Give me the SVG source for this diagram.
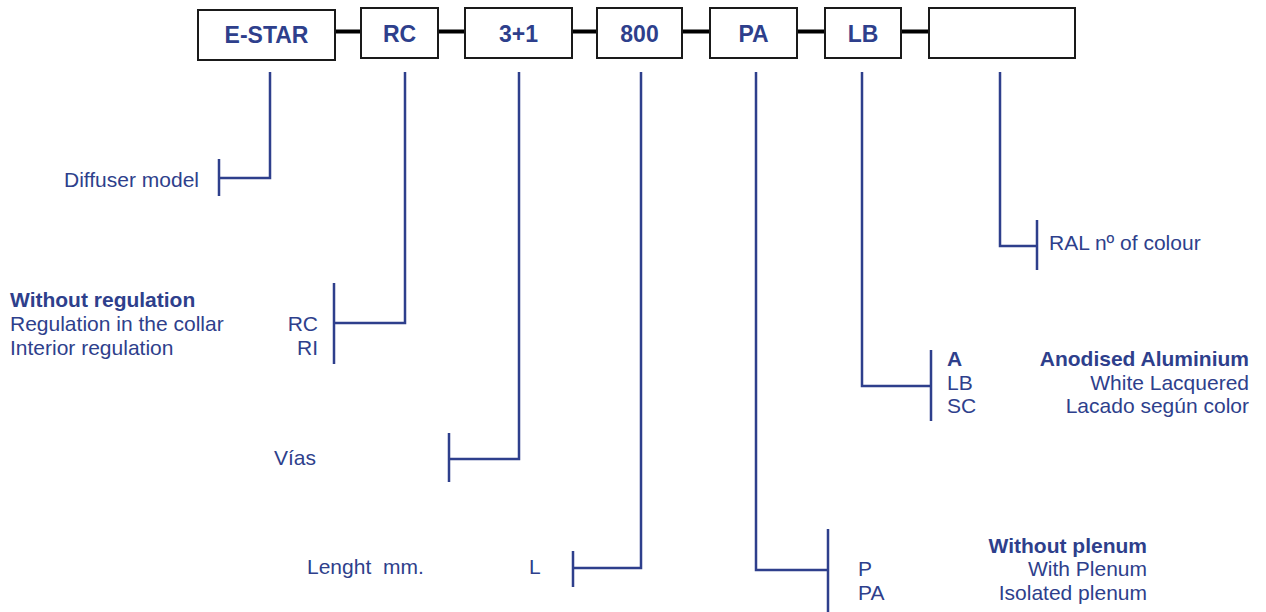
<svg xmlns="http://www.w3.org/2000/svg" width="1266" height="612" viewBox="0 0 1266 612">
<style>
.box{fill:#fff;stroke:#1a1a1a;stroke-width:2}
.bt{font-family:"Liberation Sans",Arial,sans-serif;font-weight:bold;font-size:23px;fill:#2E3F8C;text-anchor:middle}
.t{font-family:"Liberation Sans",Arial,sans-serif;font-size:21px;fill:#2E3F8C}
.b{font-weight:bold}
.r{text-anchor:end}
.link{stroke:#000;stroke-width:4;fill:none}
.lead{stroke:#2E3F8C;stroke-width:2.5;fill:none}
</style>
<rect width="1266" height="612" fill="#fff"/>
<g id="connectors">
<line class="link" x1="336" y1="31.5" x2="361" y2="31.5"/>
<line class="link" x1="438" y1="31.5" x2="465" y2="31.5"/>
<line class="link" x1="572" y1="31.5" x2="597" y2="31.5"/>
<line class="link" x1="682" y1="31.5" x2="710" y2="31.5"/>
<line class="link" x1="797" y1="31.5" x2="825" y2="31.5"/>
<line class="link" x1="901" y1="31.5" x2="929" y2="31.5"/>
<path class="lead" d="M270 72 V178 H219 M219 159 V196"/>
<path class="lead" d="M405 72 V323 H334 M334 283 V364"/>
<path class="lead" d="M519 72 V459 H449 M449 433 V482"/>
<path class="lead" d="M641 72 V568 H573 M573 551 V587"/>
<path class="lead" d="M756 72 V570 H828 M828 529 V612"/>
<path class="lead" d="M862 72 V386 H931 M931 350 V421"/>
<path class="lead" d="M1000 72 V246 H1037 M1037 220 V270"/>
</g>
<g id="n-estar"><rect class="box" x="198" y="10" width="137" height="50"/><text class="bt" x="266.5" y="43">E-STAR</text></g>
<g id="n-rc"><rect class="box" x="361" y="8" width="77" height="50"/><text class="bt" x="399.5" y="42">RC</text></g>
<g id="n-31"><rect class="box" x="465" y="8" width="107" height="50"/><text class="bt" x="518.5" y="42">3+1</text></g>
<g id="n-800"><rect class="box" x="597" y="8" width="85" height="50"/><text class="bt" x="639.5" y="42">800</text></g>
<g id="n-pa"><rect class="box" x="710" y="8" width="87" height="50"/><text class="bt" x="753.5" y="42">PA</text></g>
<g id="n-lb"><rect class="box" x="825" y="8" width="76" height="50"/><text class="bt" x="863" y="42">LB</text></g>
<g id="n-ral"><rect class="box" x="929" y="8" width="146" height="50"/></g>
<g id="l-model"><text class="t" x="64" y="187">Diffuser model</text></g>
<g id="l-reg">
<text class="t b" x="10" y="307">Without regulation</text>
<text class="t" x="10" y="331">Regulation in the collar</text>
<text class="t" x="10" y="355">Interior regulation</text>
<text class="t r" x="318" y="331">RC</text>
<text class="t r" x="318" y="355">RI</text>
</g>
<g id="l-vias"><text class="t" x="274" y="465">Vías</text></g>
<g id="l-len"><text class="t" x="307" y="574" xml:space="preserve">Lenght  mm.</text><text class="t" x="529" y="574">L</text></g>
<g id="l-plenum">
<text class="t b r" x="1147" y="553">Without plenum</text>
<text class="t" x="858" y="576">P</text>
<text class="t r" x="1147" y="576">With Plenum</text>
<text class="t" x="858" y="600">PA</text>
<text class="t r" x="1147" y="600">Isolated plenum</text>
</g>
<g id="l-finish">
<text class="t b" x="947" y="366">A</text>
<text class="t b r" x="1249" y="366">Anodised Aluminium</text>
<text class="t" x="947" y="390">LB</text>
<text class="t r" x="1249" y="390">White Lacquered</text>
<text class="t" x="947" y="413">SC</text>
<text class="t r" x="1249" y="413">Lacado según color</text>
</g>
<g id="l-ral"><text class="t" x="1049" y="250">RAL nº of colour</text></g>
</svg>
